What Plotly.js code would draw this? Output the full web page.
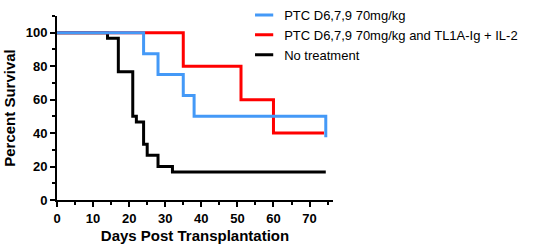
<!DOCTYPE html>
<html>
<head>
<meta charset="utf-8">
<script src="https://cdn.plot.ly/plotly-3.0.1.min.js"></script>
<style>html,body{margin:0;padding:0;background:#fff;}#chart{width:536px;height:251px;}</style>
</head>
<body>
<div id="chart"></div>
<script>
// Kaplan-Meier steps
const seriesNames = ["PTC D6,7,9 70mg/kg", "PTC D6,7,9 70mg/kg and TL1A-Ig + IL-2", "No treatment"];
const blueDays = [0, 24, 28, 35, 38, 74.5];
const blueSurvival = [100, 87.5, 75, 62.5, 50, 37.5];
const redDays = [0, 35, 51, 60, 74];
const redSurvival = [100, 80, 60, 40, 40];
const blackDays = [0, 14, 17, 21, 22, 24, 25, 28, 32, 74.5];
const blackSurvival = [100, 96.7, 76.7, 50, 46.7, 33.3, 26.7, 20, 16.7, 16.7];
const xTicks = [0, 10, 20, 30, 40, 50, 60, 70];
const yTicks = [0, 20, 40, 60, 80, 100];

const colors = ["#4499f7", "#ff0000", "#000000"];
const font = "Liberation Sans, Arial, sans-serif";

function curve(x, y, color) {
  return {x: x, y: y, type: "scatter", mode: "lines", line: {shape: "hv", color: color, width: 3}, showlegend: false, hoverinfo: "skip"};
}
function legendItem(name, color) {
  return {x: [-100], y: [-100], type: "scatter", mode: "markers", name: name,
    marker: {symbol: "line-ew", size: 13, color: color, line: {color: color, width: 3}}};
}

const data = [
  curve(blackDays, blackSurvival, colors[2]),
  curve(redDays, redSurvival, colors[1]),
  curve(blueDays, blueSurvival, colors[0]),
  legendItem(seriesNames[0], colors[0]),
  legendItem(seriesNames[1], colors[1]),
  legendItem(seriesNames[2], colors[2])
];

const layout = {
  width: 536, height: 251,
  margin: {l: 57, r: 203, t: 16, b: 51, autoexpand: false},
  paper_bgcolor: "#fff", plot_bgcolor: "#fff",
  font: {family: font, color: "#000"},
  showlegend: true,
  legend: {x: 0.678, y: 1.087, xanchor: "left", yanchor: "top",
    font: {size: 13, family: font, color: "#000"}, tracegroupgap: 0, bgcolor: "rgba(0,0,0,0)"},
  xaxis: {
    range: [0, 76.5], autorange: false, tickmode: "array", tickvals: xTicks, ticktext: xTicks.map(String),
    showline: true, linecolor: "#000", linewidth: 2, showgrid: false, zeroline: false,
    ticks: "outside", ticklen: 5, tickwidth: 2, tickcolor: "#000",
    minor: {tickmode: "linear", tick0: 0, dtick: 5, ticks: "outside", ticklen: 3, tickwidth: 2, tickcolor: "#000", showgrid: false},
    tickfont: {size: 13, family: font, weight: "bold"},
    title: {text: "Days Post Transplantation", font: {size: 15, family: font, weight: "bold"}, standoff: 6}
  },
  yaxis: {
    range: [0, 110], autorange: false, tickmode: "array", tickvals: yTicks, ticktext: yTicks.map(String),
    showline: true, linecolor: "#000", linewidth: 2, showgrid: false, zeroline: false,
    ticks: "outside", ticklen: 5, tickwidth: 2, tickcolor: "#000",
    minor: {tickmode: "linear", tick0: 0, dtick: 10, ticks: "outside", ticklen: 3, tickwidth: 2, tickcolor: "#000", showgrid: false},
    tickfont: {size: 13, family: font, weight: "bold"},
    title: {text: "Percent Survival", font: {size: 15, family: font, weight: "bold"}, standoff: 6}
  }
};

Plotly.newPlot("chart", data, layout, {staticPlot: true, displayModeBar: false});
</script>
</body>
</html>
